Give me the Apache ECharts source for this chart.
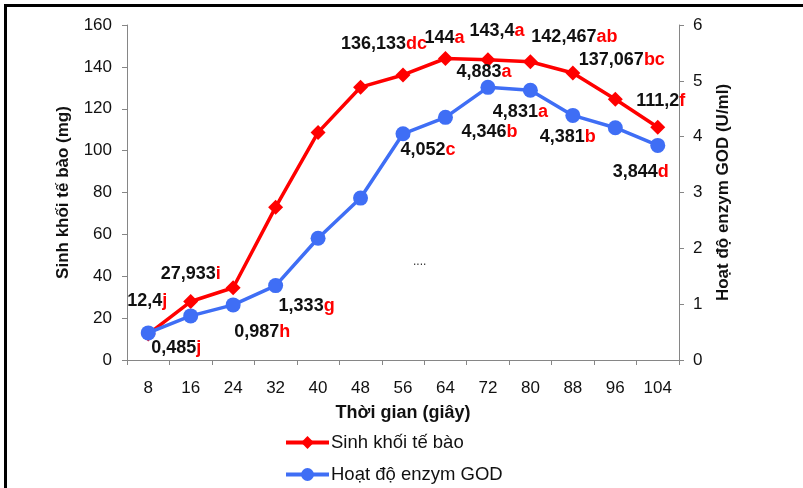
<!DOCTYPE html>
<html>
<head>
<meta charset="utf-8">
<script src="https://cdn.jsdelivr.net/npm/echarts@6/dist/echarts.min.js"></script>
<style>
  html, body { margin: 0; padding: 0; background: #fff; }
  #chart { width: 803px; height: 488px; }
</style>
</head>
<body>
<div id="chart"></div>
<script>
// Sampling times (seconds)
const times = ['8', '16', '24', '32', '40', '48', '56', '64', '72', '80', '88', '96', '104'];

// Cell biomass (mg)
const biomass = [12.4, 27.933, 34.5, 73, 108.7, 130.3, 136.133, 144, 143.4, 142.467, 137.067, 124.5, 111.2];
// Significance letters for biomass (empty = no label)
const biomassLetters = ['j', 'i', '', '', '', '', 'dc', 'a', 'a', 'ab', 'bc', '', 'f'];

// GOD enzyme activity (U/ml)
const godActivity = [0.485, 0.79, 0.987, 1.333, 2.18, 2.9, 4.052, 4.346, 4.883, 4.831, 4.381, 4.16, 3.844];
const godLetters = ['j', '', 'h', 'g', '', '', 'c', 'b', 'a', 'a', 'b', '', 'd'];

// Label offsets [dx, dy] relative to each point
const biomassLabelOffsets = [[-1, -33], [0, -27], null, null, null, null, [-19, -31], [-1, -20], [9, -29], [44, -25], [49, -13], null, [3, -26]];
const godLabelOffsets = [[28, 15], null, [29, 27], [31, 20], null, null, [25, 16], [44, 15], [-4, -15], [-10, 22], [-5, 22], null, [-17, 27]];

const seriesNames = ['Sinh khối tế bào', 'Hoạt độ enzym GOD'];

const RED = '#ff0000';
const BLUE = '#3f6ef5';
const FONT = '"Liberation Sans", Arial, sans-serif';

function fmt(v) {
  return String(v).replace('.', ',');
}

function buildData(values, letters, offsets) {
  return values.map((v, i) => {
    const item = { value: v };
    if (letters[i] && offsets[i]) {
      item.label = {
        show: true,
        position: 'inside',
        offset: offsets[i],
        formatter: '{n|' + fmt(v) + '}{l|' + letters[i] + '}'
      };
    }
    return item;
  });
}

const labelRich = {
  n: { fontFamily: FONT, fontWeight: 'bold', fontSize: 18, color: '#111' },
  l: { fontFamily: FONT, fontWeight: 'bold', fontSize: 18, color: RED }
};

// one legend block per series, stacked vertically
function legendBlock(name, top) {
  return {
    orient: 'vertical',
    left: 279,
    top: top,
    itemWidth: 43,
    itemHeight: 16,
    lineStyle: { width: 4 },
    textStyle: { fontFamily: FONT, fontSize: 18.5, color: '#111', padding: [0, 0, 0, -3] },
    data: [name]
  };
}

const chart = echarts.init(document.getElementById('chart'), null, { renderer: 'canvas' });

chart.setOption({
  animation: false,
  backgroundColor: '#fff',
  textStyle: { fontFamily: FONT },
  grid: { left: 127, right: 124, top: 25, bottom: 128, containLabel: false },
  legend: [legendBlock(seriesNames[0], 428), legendBlock(seriesNames[1], 460)],
  xAxis: {
    type: 'category',
    data: times,
    boundaryGap: true,
    name: 'Thời gian (giây)',
    nameLocation: 'middle',
    nameGap: 44,
    nameTextStyle: { fontFamily: FONT, fontWeight: 'bold', fontSize: 18, color: '#111' },
    axisLine: { lineStyle: { color: '#868686', width: 1 } },
    axisTick: { show: true, alignWithLabel: false, length: 5, lineStyle: { color: '#868686' } },
    axisLabel: { fontFamily: FONT, fontSize: 17, color: '#111', margin: 20 },
    splitLine: { show: false }
  },
  yAxis: [
    {
      type: 'value',
      min: 0,
      max: 160,
      interval: 20,
      name: 'Sinh khối tế bào (mg)',
      nameLocation: 'middle',
      nameRotate: 90,
      nameGap: 55,
      nameTextStyle: { fontFamily: FONT, fontWeight: 'bold', fontSize: 17, color: '#111' },
      axisLine: { show: true, lineStyle: { color: '#868686', width: 1 } },
      axisTick: { show: true, length: 5, lineStyle: { color: '#868686' } },
      axisLabel: { fontFamily: FONT, fontSize: 17, color: '#111', margin: 15 },
      splitLine: { show: false }
    },
    {
      type: 'value',
      min: 0,
      max: 6,
      interval: 1,
      position: 'right',
      name: 'Hoạt độ enzym GOD (U/ml)',
      nameLocation: 'middle',
      nameRotate: 90,
      nameGap: 36,
      nameTextStyle: { fontFamily: FONT, fontWeight: 'bold', fontSize: 17, color: '#111' },
      axisLine: { show: true, lineStyle: { color: '#868686', width: 1 } },
      axisTick: { show: true, length: 5, lineStyle: { color: '#868686' } },
      axisLabel: { fontFamily: FONT, fontSize: 17, color: '#111', margin: 14 },
      splitLine: { show: false }
    }
  ],
  series: [
    {
      name: seriesNames[0],
      type: 'line',
      yAxisIndex: 0,
      data: buildData(biomass, biomassLetters, biomassLabelOffsets),
      symbol: 'diamond',
      symbolSize: 15,
      lineStyle: { color: RED, width: 3.5 },
      itemStyle: { color: RED },
      label: { show: false, rich: labelRich },
      z: 3
    },
    {
      name: seriesNames[1],
      type: 'line',
      yAxisIndex: 1,
      data: buildData(godActivity, godLetters, godLabelOffsets),
      symbol: 'circle',
      symbolSize: 15,
      lineStyle: { color: BLUE, width: 3.5 },
      itemStyle: { color: BLUE },
      label: { show: false, rich: labelRich },
      z: 4
    }
  ],
  graphic: [
    // frame edges
    { type: 'rect', shape: { x: 4, y: 4, width: 799, height: 3 }, style: { fill: '#000' } },
    { type: 'rect', shape: { x: 4, y: 4, width: 3, height: 484 }, style: { fill: '#000' } },
    {
      type: 'text',
      left: 413,
      top: 256,
      style: { text: '....', font: '12px ' + FONT, fill: '#333' }
    }
  ]
});
</script>
</body>
</html>
